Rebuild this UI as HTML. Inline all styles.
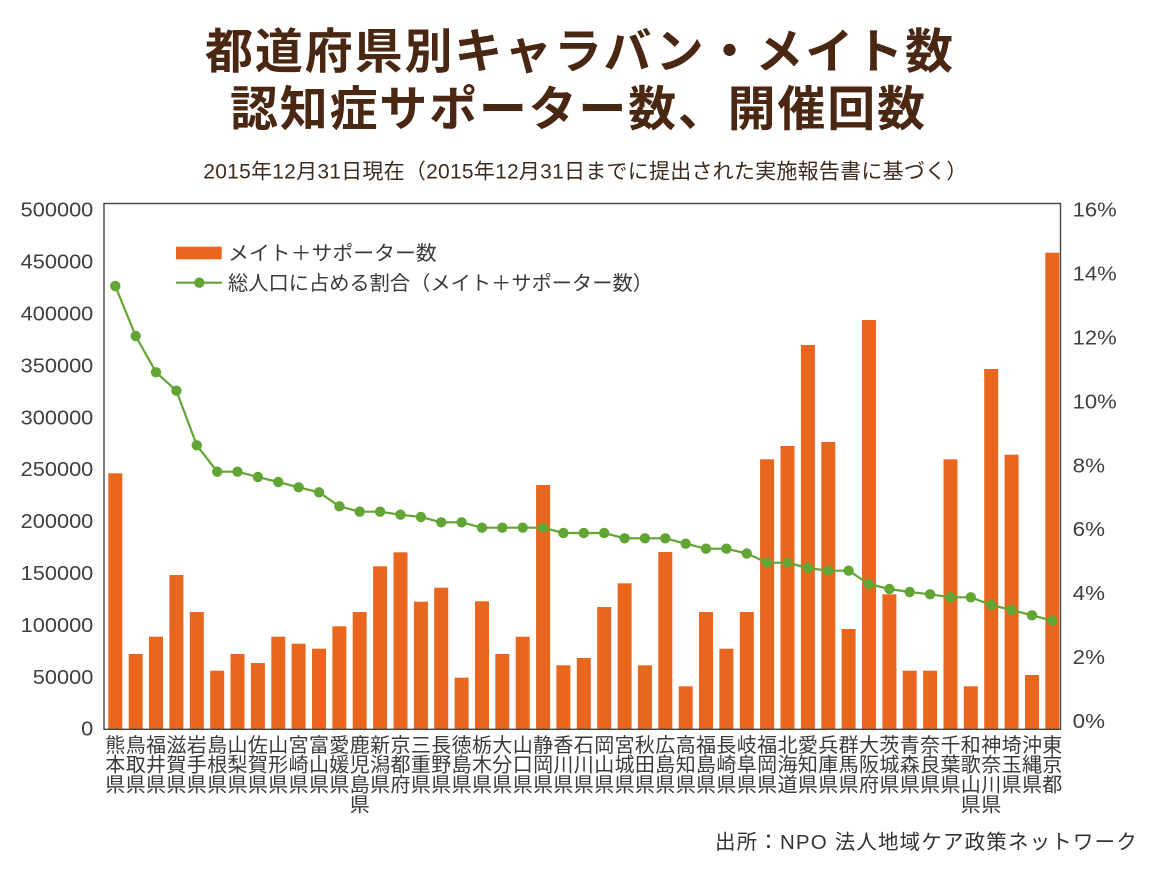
<!DOCTYPE html>
<html lang="ja">
<head>
<meta charset="utf-8">
<title>都道府県別キャラバン・メイト数 認知症サポーター数、開催回数</title>
<style>
  html,body{margin:0;padding:0;background:#fff;}
  svg{display:block;}
  text{font-family:"Liberation Sans","Noto Sans CJK JP",sans-serif;dominant-baseline:central;}
  .title{font-size:48px;font-weight:700;fill:#4a2712;}
  .sub{font-size:21px;fill:#3d2b1f;}
  .tick{font-size:20px;fill:#404040;}
  .leg{font-size:20px;fill:#3a3a3a;}
  .xl{font-size:20px;fill:#3a3a3a;text-anchor:middle;}
  .src{font-size:20.5px;fill:#333;}
</style>
</head>
<body>
<svg width="1165" height="874" viewBox="0 0 1165 874" xmlns="http://www.w3.org/2000/svg">
  <rect x="0" y="0" width="1165" height="874" fill="#fff"/>

  <!-- Titles -->
  <text class="title" x="205" y="52.5" textLength="748" lengthAdjust="spacing">都道府県別キャラバン・メイト数</text>
  <text class="title" x="230" y="110" textLength="695" lengthAdjust="spacing">認知症サポーター数、開催回数</text>
  <text class="sub" x="203.3" y="172" textLength="764" lengthAdjust="spacing">2015年12月31日現在（2015年12月31日までに提出された実施報告書に基づく）</text>

  <!-- Bars -->
  <g fill="#e9661e">
    <rect x="108.3" y="473.3" width="14" height="255.7"/>
    <rect x="128.7" y="654" width="14" height="75"/>
    <rect x="149.0" y="636.7" width="14" height="92.3"/>
    <rect x="169.4" y="575" width="14" height="154"/>
    <rect x="189.8" y="612" width="14" height="117"/>
    <rect x="210.2" y="670.7" width="14" height="58.3"/>
    <rect x="230.5" y="654" width="14" height="75"/>
    <rect x="250.9" y="663" width="14" height="66"/>
    <rect x="271.3" y="636.7" width="14" height="92.3"/>
    <rect x="291.6" y="643.7" width="14" height="85.3"/>
    <rect x="312.0" y="648.7" width="14" height="80.3"/>
    <rect x="332.4" y="626.3" width="14" height="102.7"/>
    <rect x="352.7" y="612" width="14" height="117"/>
    <rect x="373.1" y="566.3" width="14" height="162.7"/>
    <rect x="393.5" y="552.3" width="14" height="176.7"/>
    <rect x="413.9" y="601.7" width="14" height="127.3"/>
    <rect x="434.2" y="587.7" width="14" height="141.3"/>
    <rect x="454.6" y="677.7" width="14" height="51.3"/>
    <rect x="475.0" y="601.3" width="14" height="127.7"/>
    <rect x="495.3" y="654" width="14" height="75"/>
    <rect x="515.7" y="636.7" width="14" height="92.3"/>
    <rect x="536.1" y="485" width="14" height="244"/>
    <rect x="556.4" y="665.3" width="14" height="63.7"/>
    <rect x="576.8" y="658" width="14" height="71"/>
    <rect x="597.2" y="607" width="14" height="122"/>
    <rect x="617.6" y="583.3" width="14" height="145.7"/>
    <rect x="637.9" y="665.3" width="14" height="63.7"/>
    <rect x="658.3" y="552" width="14" height="177"/>
    <rect x="678.7" y="686.3" width="14" height="42.7"/>
    <rect x="699.0" y="612" width="14" height="117"/>
    <rect x="719.4" y="648.7" width="14" height="80.3"/>
    <rect x="739.8" y="612" width="14" height="117"/>
    <rect x="760.1" y="459.3" width="14" height="269.7"/>
    <rect x="780.5" y="446" width="14" height="283"/>
    <rect x="800.9" y="345" width="14" height="384"/>
    <rect x="821.3" y="442" width="14" height="287"/>
    <rect x="841.6" y="629" width="14" height="100"/>
    <rect x="862.0" y="320" width="14" height="409"/>
    <rect x="882.4" y="594.3" width="14" height="134.7"/>
    <rect x="902.7" y="670.7" width="14" height="58.3"/>
    <rect x="923.1" y="670.7" width="14" height="58.3"/>
    <rect x="943.5" y="459.3" width="14" height="269.7"/>
    <rect x="963.8" y="686.3" width="14" height="42.7"/>
    <rect x="984.2" y="369" width="14" height="360"/>
    <rect x="1004.6" y="454.7" width="14" height="274.3"/>
    <rect x="1025.0" y="675" width="14" height="54"/>
    <rect x="1045.3" y="252.7" width="14" height="476.3"/>
  </g>

  <!-- Frame -->
  <rect x="104" y="203.5" width="956.5" height="525.8" fill="none" stroke="#444" stroke-width="1.4"/>

  <!-- Line series -->
  <polyline fill="none" stroke="#63a534" stroke-width="2.2" stroke-linejoin="round"
    points="115.3,286 135.7,336 156.0,372.3 176.4,390.7 196.8,445.3 217.2,471.7 237.5,471.7 257.9,477 278.3,482 298.6,487.3 319,492.3 339.4,506.3 359.7,511.7 380.1,511.7 400.5,514.7 420.9,517 441.2,522.3 461.6,522.3 482,527.7 502.3,527.7 522.7,527.7 543.1,527.7 563.4,533 583.8,533 604.2,533 624.6,538.3 644.9,538.3 665.3,538.3 685.7,543.7 706,548.7 726.4,548.7 746.8,553.5 767.1,562.7 787.5,562.7 807.9,568 828.3,570.7 848.6,570.7 869,584 889.4,589 909.7,592 930.1,594.3 950.5,597.3 970.8,597.3 991.2,605 1011.6,610 1032,615.3 1052.3,620.7"/>
  <g fill="#63a534">
    <circle cx="115.3" cy="286" r="5.2"/>
    <circle cx="135.7" cy="336" r="5.2"/>
    <circle cx="156.0" cy="372.3" r="5.2"/>
    <circle cx="176.4" cy="390.7" r="5.2"/>
    <circle cx="196.8" cy="445.3" r="5.2"/>
    <circle cx="217.2" cy="471.7" r="5.2"/>
    <circle cx="237.5" cy="471.7" r="5.2"/>
    <circle cx="257.9" cy="477" r="5.2"/>
    <circle cx="278.3" cy="482" r="5.2"/>
    <circle cx="298.6" cy="487.3" r="5.2"/>
    <circle cx="319" cy="492.3" r="5.2"/>
    <circle cx="339.4" cy="506.3" r="5.2"/>
    <circle cx="359.7" cy="511.7" r="5.2"/>
    <circle cx="380.1" cy="511.7" r="5.2"/>
    <circle cx="400.5" cy="514.7" r="5.2"/>
    <circle cx="420.9" cy="517" r="5.2"/>
    <circle cx="441.2" cy="522.3" r="5.2"/>
    <circle cx="461.6" cy="522.3" r="5.2"/>
    <circle cx="482" cy="527.7" r="5.2"/>
    <circle cx="502.3" cy="527.7" r="5.2"/>
    <circle cx="522.7" cy="527.7" r="5.2"/>
    <circle cx="543.1" cy="527.7" r="5.2"/>
    <circle cx="563.4" cy="533" r="5.2"/>
    <circle cx="583.8" cy="533" r="5.2"/>
    <circle cx="604.2" cy="533" r="5.2"/>
    <circle cx="624.6" cy="538.3" r="5.2"/>
    <circle cx="644.9" cy="538.3" r="5.2"/>
    <circle cx="665.3" cy="538.3" r="5.2"/>
    <circle cx="685.7" cy="543.7" r="5.2"/>
    <circle cx="706" cy="548.7" r="5.2"/>
    <circle cx="726.4" cy="548.7" r="5.2"/>
    <circle cx="746.8" cy="553.5" r="5.2"/>
    <circle cx="767.1" cy="562.7" r="5.2"/>
    <circle cx="787.5" cy="562.7" r="5.2"/>
    <circle cx="807.9" cy="568" r="5.2"/>
    <circle cx="828.3" cy="570.7" r="5.2"/>
    <circle cx="848.6" cy="570.7" r="5.2"/>
    <circle cx="869" cy="584" r="5.2"/>
    <circle cx="889.4" cy="589" r="5.2"/>
    <circle cx="909.7" cy="592" r="5.2"/>
    <circle cx="930.1" cy="594.3" r="5.2"/>
    <circle cx="950.5" cy="597.3" r="5.2"/>
    <circle cx="970.8" cy="597.3" r="5.2"/>
    <circle cx="991.2" cy="605" r="5.2"/>
    <circle cx="1011.6" cy="610" r="5.2"/>
    <circle cx="1032" cy="615.3" r="5.2"/>
    <circle cx="1052.3" cy="620.7" r="5.2"/>
  </g>

  <!-- Legend -->
  <rect x="176" y="246.7" width="45.7" height="12.6" fill="#e9661e"/>
  <text class="leg" x="228" y="254" textLength="208.7" lengthAdjust="spacingAndGlyphs">メイト＋サポーター数</text>
  <line x1="176" y1="282.7" x2="222" y2="282.7" stroke="#63a534" stroke-width="2.2"/>
  <circle cx="199.3" cy="282.7" r="5.2" fill="#63a534"/>
  <text class="leg" x="228" y="284" textLength="425" lengthAdjust="spacingAndGlyphs">総人口に占める割合（メイト＋サポーター数）</text>

  <!-- Left axis labels -->
  <g>
    <text class="tick" x="93.3" y="210.7" text-anchor="end" textLength="72.6" lengthAdjust="spacingAndGlyphs">500000</text>
    <text class="tick" x="93.3" y="262.6" text-anchor="end" textLength="72.6" lengthAdjust="spacingAndGlyphs">450000</text>
    <text class="tick" x="93.3" y="314.5" text-anchor="end" textLength="72.6" lengthAdjust="spacingAndGlyphs">400000</text>
    <text class="tick" x="93.3" y="366.4" text-anchor="end" textLength="72.6" lengthAdjust="spacingAndGlyphs">350000</text>
    <text class="tick" x="93.3" y="418.3" text-anchor="end" textLength="72.6" lengthAdjust="spacingAndGlyphs">300000</text>
    <text class="tick" x="93.3" y="470.2" text-anchor="end" textLength="72.6" lengthAdjust="spacingAndGlyphs">250000</text>
    <text class="tick" x="93.3" y="522.1" text-anchor="end" textLength="72.6" lengthAdjust="spacingAndGlyphs">200000</text>
    <text class="tick" x="93.3" y="574" text-anchor="end" textLength="72.6" lengthAdjust="spacingAndGlyphs">150000</text>
    <text class="tick" x="93.3" y="625.9" text-anchor="end" textLength="72.6" lengthAdjust="spacingAndGlyphs">100000</text>
    <text class="tick" x="93.3" y="677.8" text-anchor="end" textLength="60.5" lengthAdjust="spacingAndGlyphs">50000</text>
    <text class="tick" x="93.3" y="729.7" text-anchor="end" textLength="12.1" lengthAdjust="spacingAndGlyphs">0</text>
  </g>

  <!-- Right axis labels -->
  <g>
    <text class="tick" x="1072.7" y="210.7" textLength="44" lengthAdjust="spacingAndGlyphs">16%</text>
    <text class="tick" x="1072.7" y="274.6" textLength="44" lengthAdjust="spacingAndGlyphs">14%</text>
    <text class="tick" x="1072.7" y="338.5" textLength="44" lengthAdjust="spacingAndGlyphs">12%</text>
    <text class="tick" x="1072.7" y="402.4" textLength="44" lengthAdjust="spacingAndGlyphs">10%</text>
    <text class="tick" x="1072.7" y="466.3" textLength="32.3" lengthAdjust="spacingAndGlyphs">8%</text>
    <text class="tick" x="1072.7" y="530.2" textLength="32.3" lengthAdjust="spacingAndGlyphs">6%</text>
    <text class="tick" x="1072.7" y="594.1" textLength="32.3" lengthAdjust="spacingAndGlyphs">4%</text>
    <text class="tick" x="1072.7" y="658" textLength="32.3" lengthAdjust="spacingAndGlyphs">2%</text>
    <text class="tick" x="1072.7" y="721.9" textLength="32.3" lengthAdjust="spacingAndGlyphs">0%</text>
  </g>

  <!-- X axis category labels (vertical stacks) -->
  <text class="xl" x="115.3 135.7 156.0 176.4 196.8 217.2 237.5 257.9 278.3 298.6 319.0 339.4 359.7 380.1 400.5 420.9 441.2 461.6 482.0 502.3 522.7 543.1 563.4 583.8 604.2 624.6 644.9 665.3 685.7 706.0 726.4 746.8 767.1 787.5 807.9 828.3 848.6 869.0 889.4 909.7 930.1 950.5 970.8 991.2 1011.6 1032.0 1052.3" y="745.8">熊鳥福滋岩島山佐山宮富愛鹿新京三長徳栃大山静香石岡宮秋広高福長岐福北愛兵群大茨青奈千和神埼沖東</text>
  <text class="xl" x="115.3 135.7 156.0 176.4 196.8 217.2 237.5 257.9 278.3 298.6 319.0 339.4 359.7 380.1 400.5 420.9 441.2 461.6 482.0 502.3 522.7 543.1 563.4 583.8 604.2 624.6 644.9 665.3 685.7 706.0 726.4 746.8 767.1 787.5 807.9 828.3 848.6 869.0 889.4 909.7 930.1 950.5 970.8 991.2 1011.6 1032.0 1052.3" y="765.7">本取井賀手根梨賀形崎山媛児潟都重野島木分口岡川川山城田島知島崎阜岡海知庫馬阪城森良葉歌奈玉縄京</text>
  <text class="xl" x="115.3 135.7 156.0 176.4 196.8 217.2 237.5 257.9 278.3 298.6 319.0 339.4 359.7 380.1 400.5 420.9 441.2 461.6 482.0 502.3 522.7 543.1 563.4 583.8 604.2 624.6 644.9 665.3 685.7 706.0 726.4 746.8 767.1 787.5 807.9 828.3 848.6 869.0 889.4 909.7 930.1 950.5 970.8 991.2 1011.6 1032.0 1052.3" y="785.6">県県県県県県県県県県県県島県府県県県県県県県県県県県県県県県県県県道県県県府県県県県山川県県都</text>
  <text class="xl" x="359.7 970.8 991.2" y="805.5">県県県</text>

  <!-- Source -->
  <text class="src" x="715" y="842.5" textLength="421.7" lengthAdjust="spacing">出所：NPO 法人地域ケア政策ネットワーク</text>
</svg>
</body>
</html>
